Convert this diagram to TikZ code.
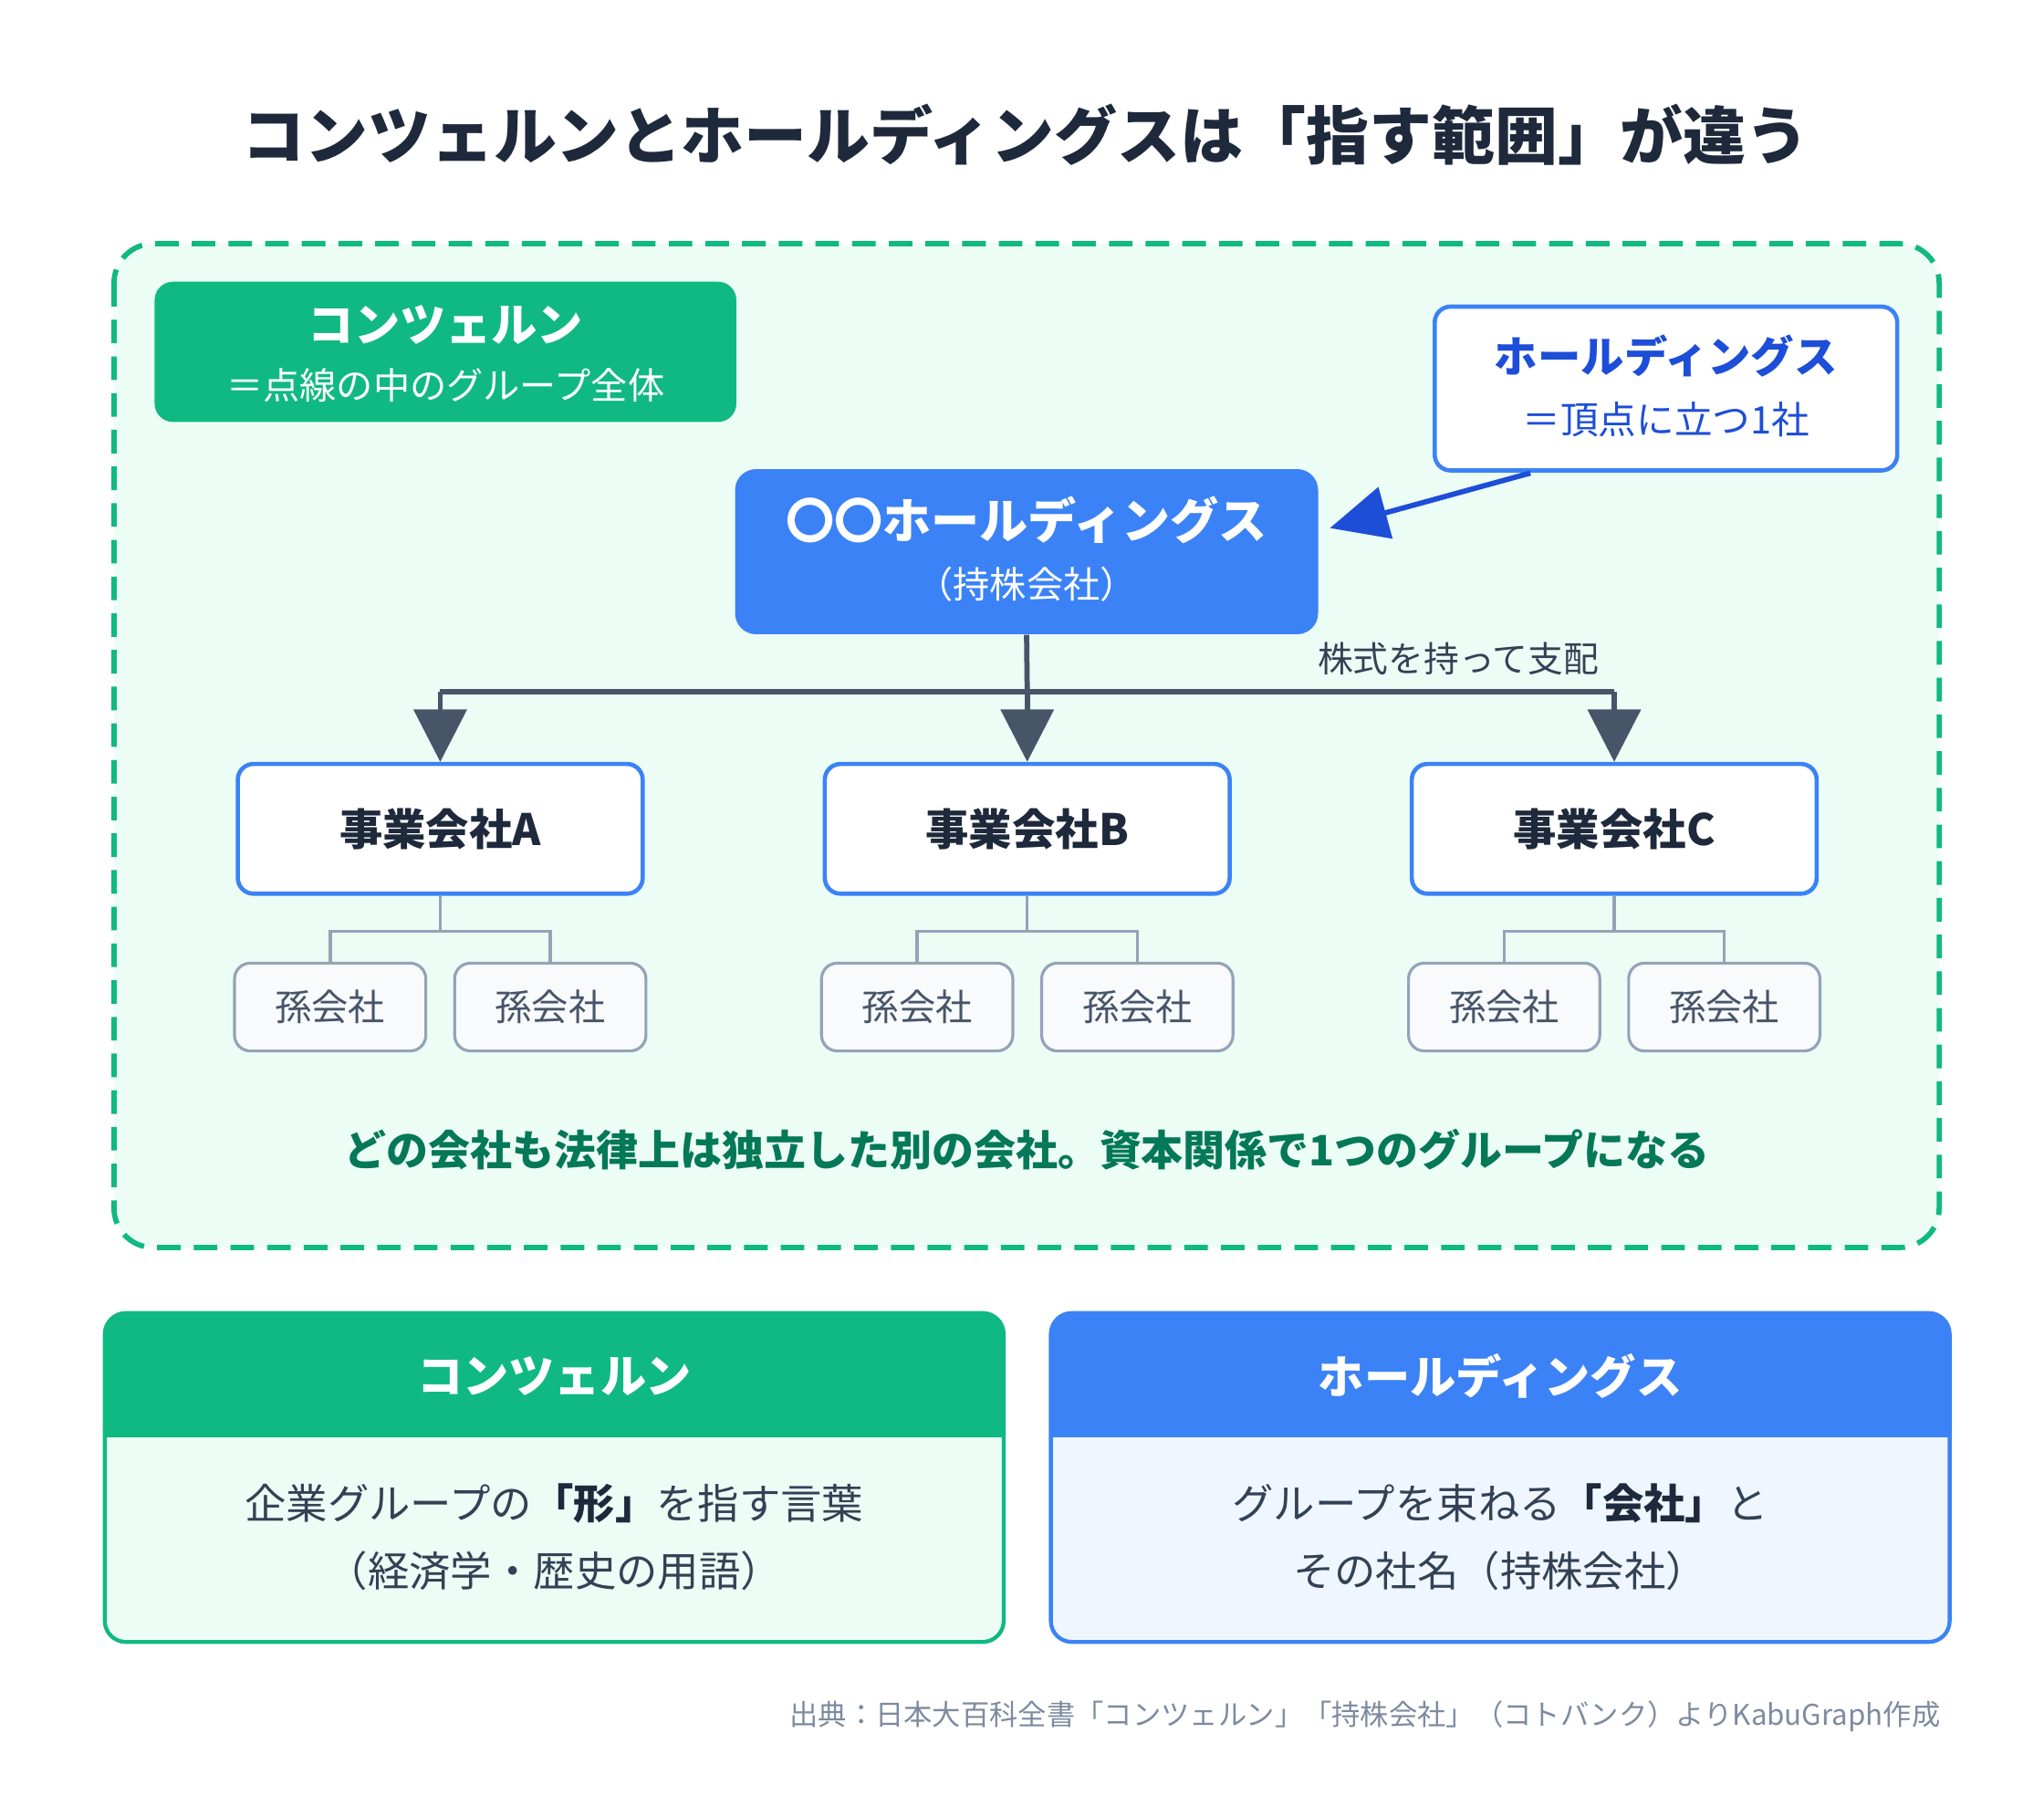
\documentclass[tikz,border=0pt]{standalone}
\usepackage{fontspec}
\setmainfont{Noto Sans CJK JP}
\usetikzlibrary{arrows.meta}
\definecolor{grn}{HTML}{10B981}
\definecolor{grnbg}{HTML}{ECFDF5}
\definecolor{grnd}{HTML}{047857}
\definecolor{blu}{HTML}{3B82F6}
\definecolor{blud}{HTML}{1D4ED8}
\definecolor{blubg}{HTML}{EFF6FF}
\definecolor{slt}{HTML}{475569}
\definecolor{sltl}{HTML}{94A3B8}
\definecolor{ink}{HTML}{1E293B}
\definecolor{txt}{HTML}{334155}
\definecolor{subbg}{HTML}{F8FAFC}
\tikzset{
 co/.style={draw=blu,line width=1.6pt,fill=white,rounded corners=6pt},
 sub/.style={draw=sltl,line width=1.1pt,fill=subbg,rounded corners=6pt},
 tr/.style={slt,line width=2pt},
 tl/.style={sltl,line width=1.2pt},
 ah/.style={-{Triangle[length=20pt,width=20pt]}},
}
\begin{document}
\begin{tikzpicture}[x=0.5pt,y=-0.5pt]
\useasboundingbox[fill=white] (0,0) rectangle (1560,1370);
\node (title) at (783,103) {\fontsize{24pt}{28pt}\selectfont\bfseries\color{ink}コンツェルンとホールディングスは「指す範囲」が違う};
\draw[grn,line width=2pt,dash pattern=on 9pt off 5pt,fill=grnbg,rounded corners=15pt] (87,186) rectangle (1480,952);
\draw[fill=grn,draw=none,rounded corners=7pt] (118,215) rectangle (562,322);
\node[white] (gl1) at (340,248) {\fontsize{17.5pt}{20pt}\selectfont\bfseries コンツェルン};
\node[white] (gl2) at (340,294) {\fontsize{14pt}{16pt}\selectfont ＝点線の中のグループ全体};
\node[co,minimum width=176.5pt,minimum height=62.5pt] (hb) at (1271.5,296.5) {};
\node[blud] at (1271.5,272) {\fontsize{16.5pt}{19pt}\selectfont\bfseries ホールディングス};
\node[blud] at (1271.5,320) {\fontsize{14.5pt}{17pt}\selectfont ＝頂点に立つ1社};
\node[fill=blu,rounded corners=8pt,minimum width=222.5pt,minimum height=63pt] (hd) at (783.5,421) {};
\node[white] at (783.5,397) {\fontsize{18.5pt}{21pt}\selectfont\bfseries 〇〇ホールディングス};
\node[white] at (783.5,446) {\fontsize{14pt}{17pt}\selectfont （持株会社）};
\coordinate (as) at (1168,361);
\coordinate (ae) at (1015,403);
\draw[blud,line width=2pt,-{Triangle[length=22pt,width=20pt]}] (as) -- (ae);
\coordinate (j) at (784,528);
\node[txt] at (1113,503) {\fontsize{13.5pt}{16pt}\selectfont 株式を持って支配};
\foreach \x/\l in {336/A,784/B,1232/C}{
 \node[co,minimum width=154.5pt,minimum height=49.5pt] (c\l) at (\x,632.5) {\fontsize{16.5pt}{19pt}\selectfont\bfseries\color{ink}事業会社\l};
 \node[sub,minimum width=73pt,minimum height=33.5pt] (s1\l) at (\x-84,768.5) {\fontsize{14pt}{17pt}\selectfont\color{slt}孫会社};
 \node[sub,minimum width=73pt,minimum height=33.5pt] (s2\l) at (\x+84,768.5) {\fontsize{14pt}{17pt}\selectfont\color{slt}孫会社};
 \draw[tl] (c\l.south) -- ++(0,27) -| (s1\l.north);
 \draw[tl] (c\l.south) -- ++(0,27) -| (s2\l.north);
}
\draw[tr] (hd.south) -- (j);
\draw[tr] (336,528) -- (1232,528);
\foreach \l/\x in {A/336,B/784,C/1232}{
 \draw[tr,ah] (\x,528) -- (c\l.north);
}
\node[grnd] at (784,877) {\fontsize{16pt}{18pt}\selectfont\bfseries どの会社も法律上は独立した別の会社。資本関係で1つのグループになる};
\draw[grn,line width=1.5pt,fill=grnbg,rounded corners=8pt] (80,1002) rectangle (766,1253);
\begin{scope}
\clip[rounded corners=8pt] (80,1002) rectangle (766,1253);
\fill[grn] (80,1002) rectangle (766,1097);
\end{scope}
\node[white] at (423,1050) {\fontsize{17.5pt}{20pt}\selectfont\bfseries コンツェルン};
\node[txt] at (423,1147) {\fontsize{15.8pt}{18pt}\selectfont 企業グループの{\bfseries\color{ink}「形」}を指す言葉};
\node[txt] at (423,1199) {\fontsize{15.8pt}{18pt}\selectfont （経済学・歴史の用語）};
\draw[blu,line width=1.5pt,fill=blubg,rounded corners=8pt] (802,1002) rectangle (1488,1253);
\begin{scope}
\clip[rounded corners=8pt] (802,1002) rectangle (1488,1253);
\fill[blu] (802,1002) rectangle (1488,1097);
\end{scope}
\node[white] at (1145,1050) {\fontsize{17.5pt}{20pt}\selectfont\bfseries ホールディングス};
\node[txt] at (1145,1147) {\fontsize{15.8pt}{18pt}\selectfont グループを束ねる{\bfseries\color{ink}「会社」}と};
\node[txt] at (1145,1199) {\fontsize{15.8pt}{18pt}\selectfont その社名（持株会社）};
\node[anchor=east,sltl!70!slt] at (1488,1310) {\fontsize{10.9pt}{13pt}\selectfont 出典：日本大百科全書「コンツェルン」「持株会社」（コトバンク）よりKabuGraph作成};
\end{tikzpicture}
\end{document}
